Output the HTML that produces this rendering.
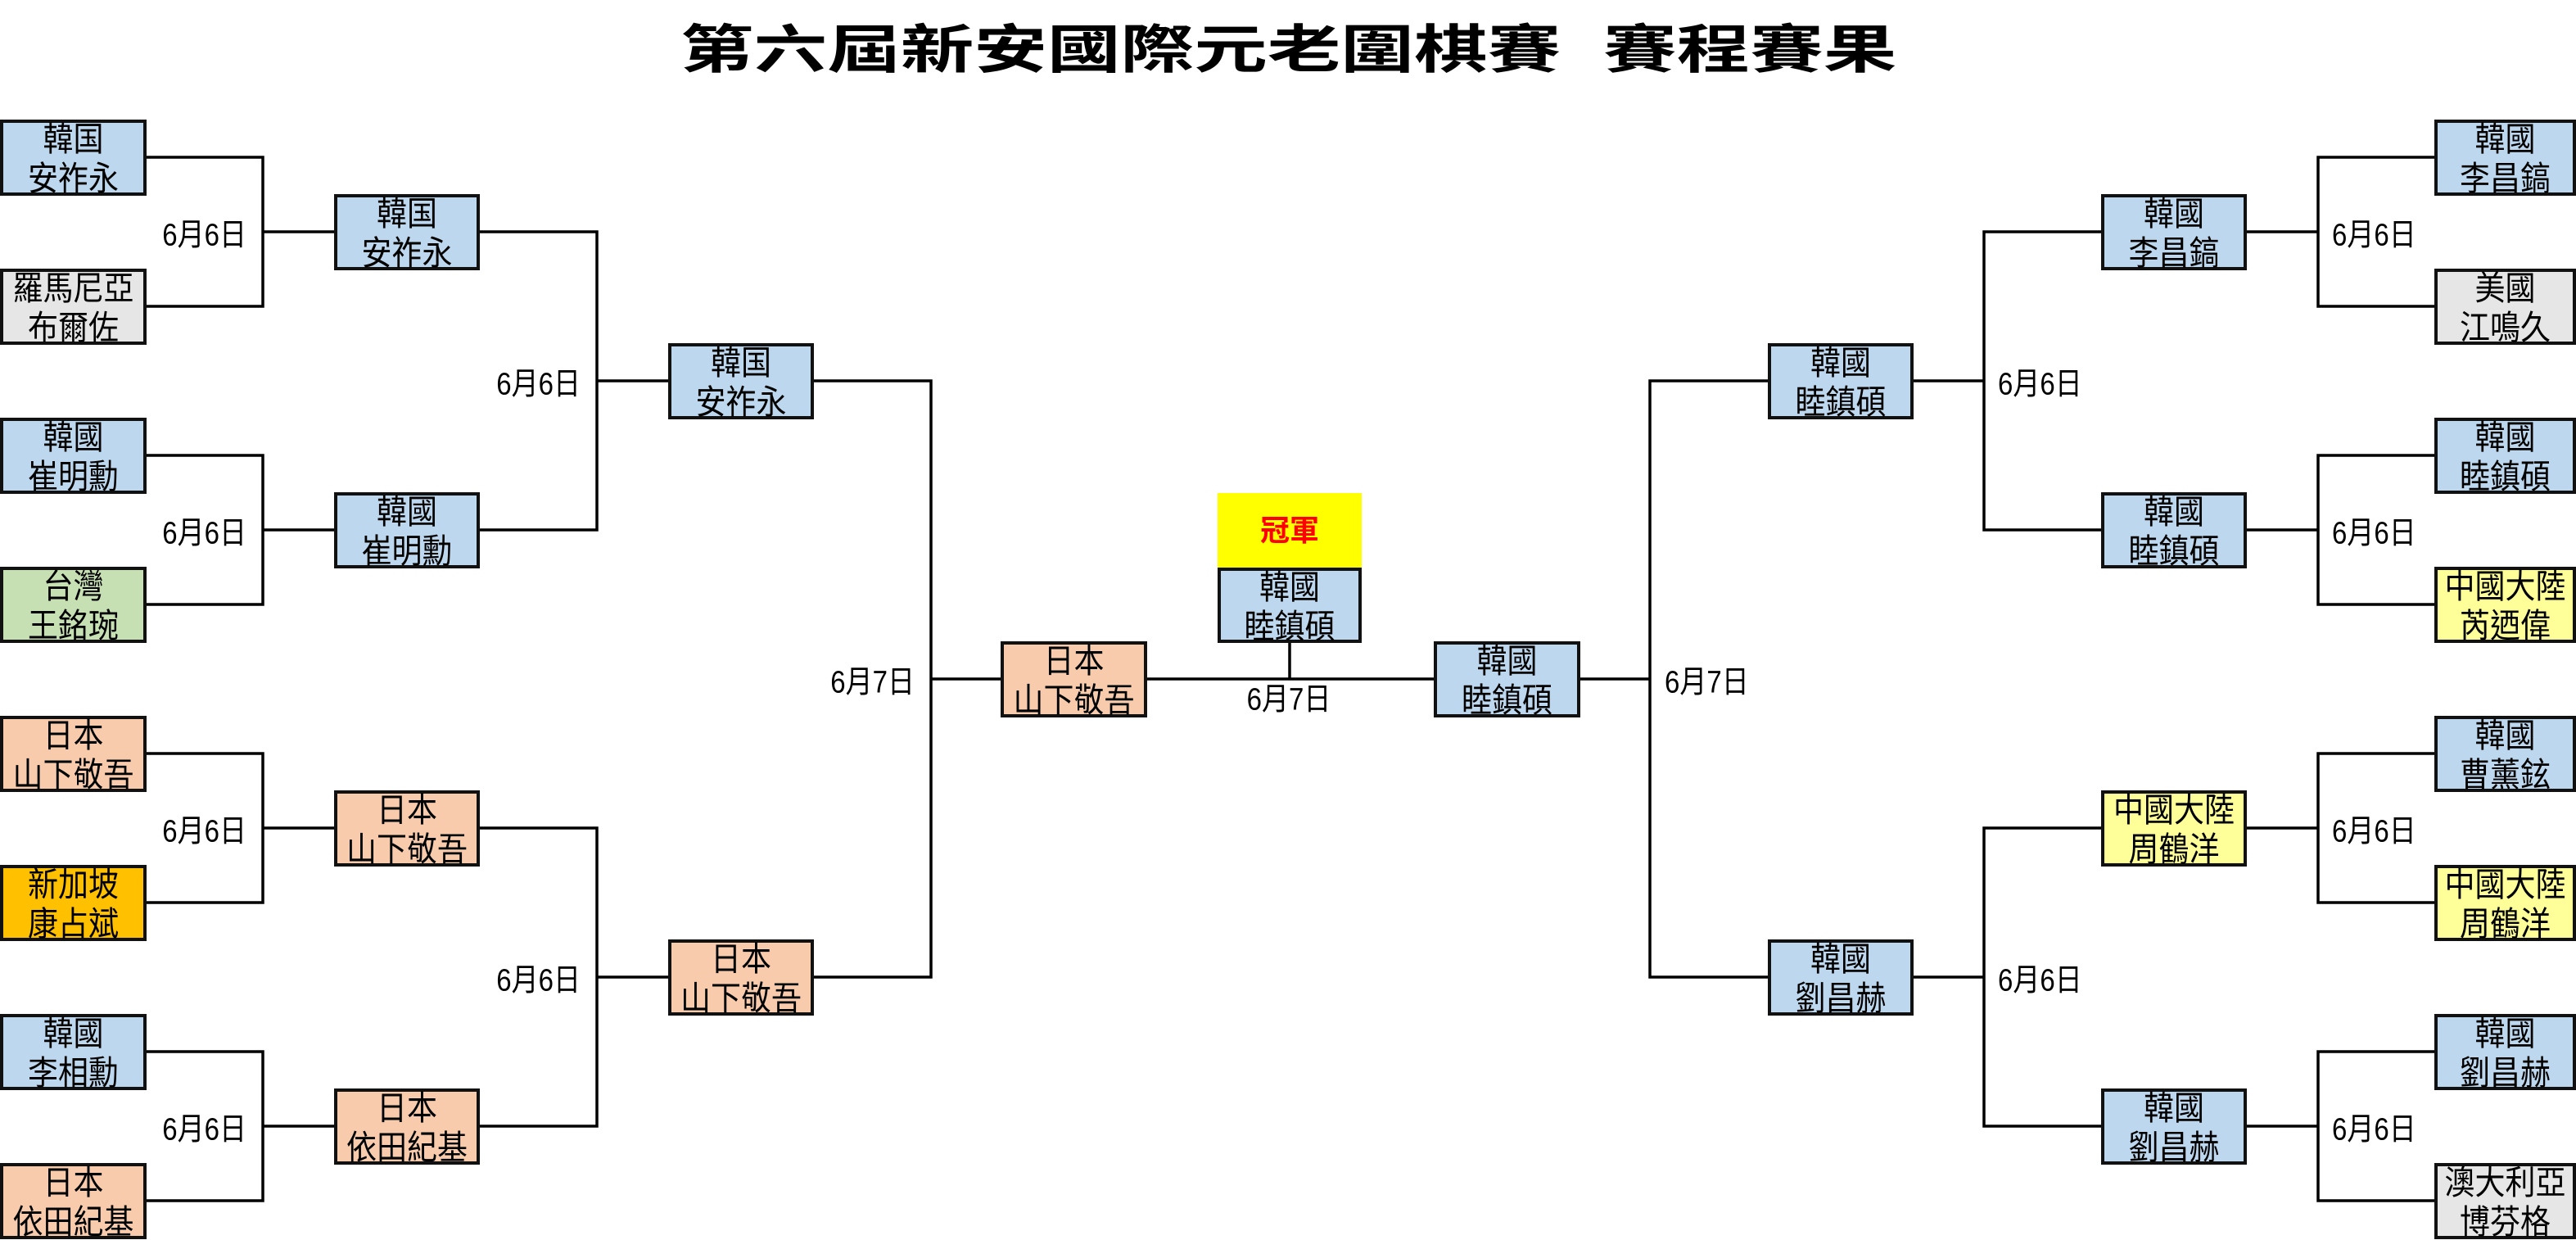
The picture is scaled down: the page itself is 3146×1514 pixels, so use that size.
<!DOCTYPE html>
<html>
<head>
<meta charset="utf-8">
<style>
html,body{margin:0;padding:0;background:#fff;}
#wrap{position:relative;width:3146px;height:1514px;overflow:hidden;background:#fff;}
svg{position:absolute;left:0;top:0;}
.b{position:absolute;box-sizing:border-box;border:4px solid #111;height:93px;display:flex;flex-direction:column;align-items:center;justify-content:center;font-family:"Liberation Sans","Noto Sans CJK TC",sans-serif;font-size:37px;line-height:48px;text-align:center;white-space:nowrap;color:#000;padding-top:5px;}
.b > div{transform:scaleY(1.1);}
.c0{left:0;width:179px;}
.c1{left:408px;width:178px;}
.c2{left:816px;width:178px;}
.c3{left:1222px;width:179px;}
.r3{left:1751px;width:179px;}
.r2{left:2159px;width:178px;}
.r1{left:2566px;width:178px;}
.r0{left:2973px;width:173px;}
.bl{background:#BDD7EE;}
.gr{background:#E7E6E6;}
.gn{background:#C6E0B4;}
.pc{background:#F8CBAD;}
.or{background:#FFC000;}
.ly{background:#FFFF99;}
.l{position:absolute;font-family:"Liberation Sans","Noto Sans CJK TC",sans-serif;font-size:33px;line-height:40px;white-space:nowrap;color:#000;transform:scaleY(1.15);}
.title{position:absolute;top:24px;font-family:"Noto Sans CJK TC","Noto Sans CJK SC",sans-serif;font-weight:700;font-size:64px;line-height:64px;white-space:nowrap;transform:scaleX(1.4);transform-origin:0 0;color:#000;}
</style>
</head>
<body>
<div id="wrap">
<span class="title" style="left:831px;">第六屆新安國際元老圍棋賽</span>
<span class="title" style="left:1958px;">賽程賽果</span>

<svg width="3146" height="1514" viewBox="0 0 3146 1514">
<g fill="none" stroke="#000" stroke-width="3.5" stroke-linejoin="miter">
<polyline points="179,192 321,192 321,374 179,374"/><line x1="321" y1="283" x2="408" y2="283"/>
<polyline points="179,556 321,556 321,738 179,738"/><line x1="321" y1="647" x2="408" y2="647"/>
<polyline points="179,920 321,920 321,1102 179,1102"/><line x1="321" y1="1011" x2="408" y2="1011"/>
<polyline points="179,1284 321,1284 321,1466 179,1466"/><line x1="321" y1="1375" x2="408" y2="1375"/>
<polyline points="586,283 729,283 729,647 586,647"/><line x1="729" y1="465" x2="816" y2="465"/>
<polyline points="586,1011 729,1011 729,1375 586,1375"/><line x1="729" y1="1193" x2="816" y2="1193"/>
<polyline points="994,465 1137,465 1137,1193 994,1193"/><line x1="1137" y1="829" x2="1222" y2="829"/>
<line x1="1401" y1="829" x2="1751" y2="829"/>
<line x1="1575" y1="785" x2="1575" y2="829"/>
<polyline points="2159,465 2015,465 2015,1193 2159,1193"/><line x1="2015" y1="829" x2="1930" y2="829"/>
<polyline points="2566,283 2423,283 2423,647 2566,647"/><line x1="2423" y1="465" x2="2337" y2="465"/>
<polyline points="2566,1011 2423,1011 2423,1375 2566,1375"/><line x1="2423" y1="1193" x2="2337" y2="1193"/>
<polyline points="2973,192 2831,192 2831,374 2973,374"/><line x1="2831" y1="283" x2="2744" y2="283"/>
<polyline points="2973,556 2831,556 2831,738 2973,738"/><line x1="2831" y1="647" x2="2744" y2="647"/>
<polyline points="2973,920 2831,920 2831,1102 2973,1102"/><line x1="2831" y1="1011" x2="2744" y2="1011"/>
<polyline points="2973,1284 2831,1284 2831,1466 2973,1466"/><line x1="2831" y1="1375" x2="2744" y2="1375"/>
</g>
</svg>

<!-- Left R1 -->
<div class="b c0 bl" style="top:146px;"><div>韓国</div><div>安祚永</div></div>
<div class="b c0 gr" style="top:328px;"><div>羅馬尼亞</div><div>布爾佐</div></div>
<div class="b c0 bl" style="top:510px;"><div>韓國</div><div>崔明勳</div></div>
<div class="b c0 gn" style="top:692px;"><div>台灣</div><div>王銘琬</div></div>
<div class="b c0 pc" style="top:874px;"><div>日本</div><div>山下敬吾</div></div>
<div class="b c0 or" style="top:1056px;"><div>新加坡</div><div>康占斌</div></div>
<div class="b c0 bl" style="top:1238px;"><div>韓國</div><div>李相勳</div></div>
<div class="b c0 pc" style="top:1420px;"><div>日本</div><div>依田紀基</div></div>

<!-- Left R2 -->
<div class="b c1 bl" style="top:237px;"><div>韓国</div><div>安祚永</div></div>
<div class="b c1 bl" style="top:601px;"><div>韓國</div><div>崔明勳</div></div>
<div class="b c1 pc" style="top:965px;"><div>日本</div><div>山下敬吾</div></div>
<div class="b c1 pc" style="top:1329px;"><div>日本</div><div>依田紀基</div></div>

<!-- Left R3 -->
<div class="b c2 bl" style="top:419px;"><div>韓国</div><div>安祚永</div></div>
<div class="b c2 pc" style="top:1147px;"><div>日本</div><div>山下敬吾</div></div>

<!-- Finalists -->
<div class="b c3 pc" style="top:783px;"><div>日本</div><div>山下敬吾</div></div>
<div class="b r3 bl" style="top:783px;"><div>韓國</div><div>睦鎮碩</div></div>

<!-- Champion -->
<div style="position:absolute;left:1487px;top:602px;width:176px;height:91px;background:#FFFF00;display:flex;align-items:center;justify-content:center;font-family:'Liberation Sans','Noto Sans CJK TC',sans-serif;font-weight:bold;font-size:36px;line-height:40px;color:#FF0000;">冠軍</div>
<div class="b bl" style="left:1487px;width:176px;top:693px;height:92px;"><div>韓國</div><div>睦鎮碩</div></div>

<!-- Right R3 -->
<div class="b r2 bl" style="top:419px;"><div>韓國</div><div>睦鎮碩</div></div>
<div class="b r2 bl" style="top:1147px;"><div>韓國</div><div>劉昌赫</div></div>

<!-- Right R2 -->
<div class="b r1 bl" style="top:237px;"><div>韓國</div><div>李昌鎬</div></div>
<div class="b r1 bl" style="top:601px;"><div>韓國</div><div>睦鎮碩</div></div>
<div class="b r1 ly" style="top:965px;"><div>中國大陸</div><div>周鶴洋</div></div>
<div class="b r1 bl" style="top:1329px;"><div>韓國</div><div>劉昌赫</div></div>

<!-- Right R1 -->
<div class="b r0 bl" style="top:146px;"><div>韓國</div><div>李昌鎬</div></div>
<div class="b r0 gr" style="top:328px;"><div>美國</div><div>江鳴久</div></div>
<div class="b r0 bl" style="top:510px;"><div>韓國</div><div>睦鎮碩</div></div>
<div class="b r0 ly" style="top:692px;"><div>中國大陸</div><div>芮迺偉</div></div>
<div class="b r0 bl" style="top:874px;"><div>韓國</div><div>曹薰鉉</div></div>
<div class="b r0 ly" style="top:1056px;"><div>中國大陸</div><div>周鶴洋</div></div>
<div class="b r0 bl" style="top:1238px;"><div>韓國</div><div>劉昌赫</div></div>
<div class="b r0 gr" style="top:1420px;"><div>澳大利亞</div><div>博芬格</div></div>

<!-- Left labels -->
<div class="l" style="right:2845px;top:267px;">6月6日</div>
<div class="l" style="right:2845px;top:631px;">6月6日</div>
<div class="l" style="right:2845px;top:995px;">6月6日</div>
<div class="l" style="right:2845px;top:1359px;">6月6日</div>
<div class="l" style="right:2437px;top:449px;">6月6日</div>
<div class="l" style="right:2437px;top:1177px;">6月6日</div>
<div class="l" style="right:2029px;top:813px;">6月7日</div>

<!-- Center label -->
<div class="l" style="left:1474px;width:200px;text-align:center;top:834px;">6月7日</div>

<!-- Right labels -->
<div class="l" style="left:2848px;top:267px;">6月6日</div>
<div class="l" style="left:2848px;top:631px;">6月6日</div>
<div class="l" style="left:2848px;top:995px;">6月6日</div>
<div class="l" style="left:2848px;top:1359px;">6月6日</div>
<div class="l" style="left:2440px;top:449px;">6月6日</div>
<div class="l" style="left:2440px;top:1177px;">6月6日</div>
<div class="l" style="left:2033px;top:813px;">6月7日</div>
</div>
</body>
</html>
